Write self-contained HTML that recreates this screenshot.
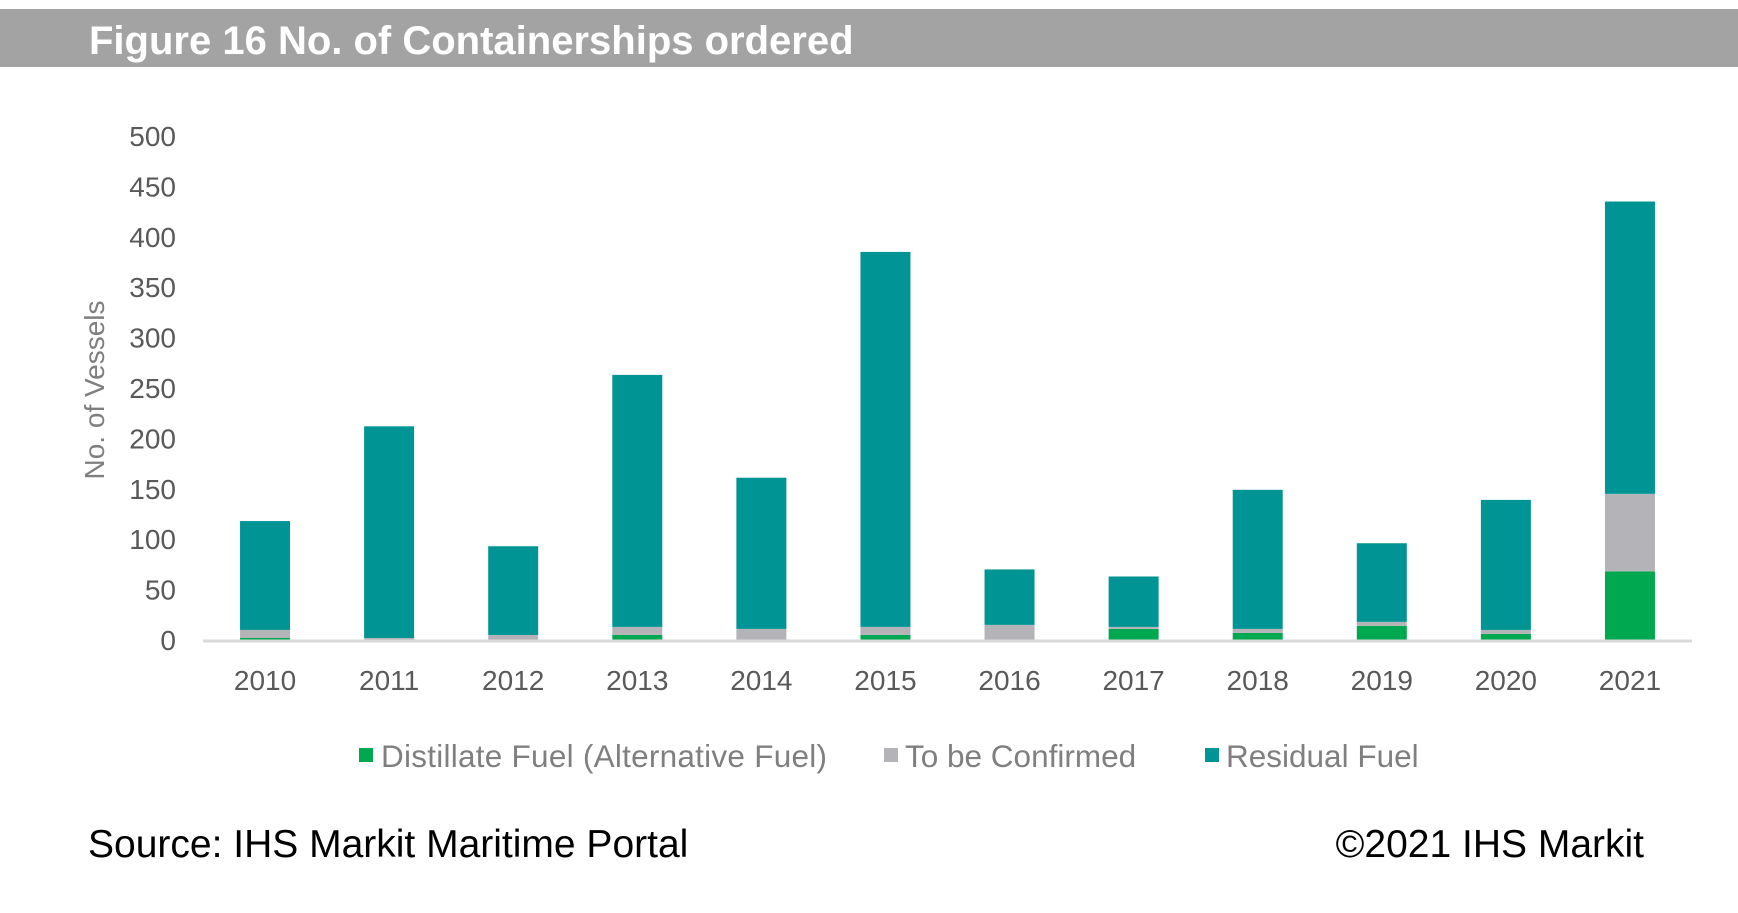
<!DOCTYPE html>
<html><head><meta charset="utf-8"><style>
body{margin:0;width:1738px;height:908px;background:#fff;overflow:hidden;font-family:"Liberation Sans",sans-serif}
</style></head><body>
<svg width="1738" height="908" xmlns="http://www.w3.org/2000/svg">
<rect x="0" y="9" width="1738" height="58" fill="#a3a3a3"/>
<text x="89" y="54" font-size="40" font-weight="bold" fill="#fff" font-family="Liberation Sans">Figure 16 No. of Containerships ordered</text>
<g id="yaxis"></g>
<g id="bars"></g>
<g id="xaxis"></g>
<text transform="translate(104,390) rotate(-90)" text-anchor="middle" font-size="28" fill="#7f7f7f">No. of Vessels</text>
<g font-size="31.5" fill="#7f7f7f">
<rect x="359" y="748" width="14" height="14" fill="#00a84f"/>
<text x="381" y="767" textLength="446">Distillate Fuel (Alternative Fuel)</text>
<rect x="884" y="748" width="14" height="14" fill="#b4b4b8"/>
<text x="905" y="767">To be Confirmed</text>
<rect x="1205" y="748" width="14" height="14" fill="#009494"/>
<text x="1226" y="767">Residual Fuel</text>
</g>
<text x="88" y="857" font-size="39" fill="#000">Source: IHS Markit Maritime Portal</text>
<text x="1644" y="857" font-size="39" fill="#000" text-anchor="end">©2021 IHS Markit</text>
</svg>
<script>
const categories=["2010","2011","2012","2013","2014","2015","2016","2017","2018","2019","2020","2021"];
const distillate=[2,0,0,5,0,5,0,11,7,14,6,68];
const tbc=[8,2,5,8,11,8,15,2,4,4,4,77];
const residual=[108,210,88,250,150,372,55,50,138,78,129,290];
const yTicks=[0,50,100,150,200,250,300,350,400,450,500];
const colors=["#00a84f","#b4b4b8","#009494"];
const NS="http://www.w3.org/2000/svg";
const x0=203,x1=1692,yBase=640,yTop=136,yMax=500;
const band=(x1-x0)/categories.length, bw=50;
const y=v=>yBase-(v/yMax)*(yBase-yTop);
const xc=i=>x0+band*(i+0.5);
function mk(tag,attrs,parent){const e=document.createElementNS(NS,tag);for(const k in attrs)e.setAttribute(k,attrs[k]);parent.appendChild(e);return e;}
const ya=document.getElementById('yaxis'),bars=document.getElementById('bars'),xa=document.getElementById('xaxis');
yTicks.forEach(t=>{const e=mk('text',{x:176,y:y(t)+10,'text-anchor':'end','font-size':'28',fill:'#595959'},ya);e.textContent=t;

});
const series=[distillate,tbc,residual];
categories.forEach((c,i)=>{let acc=0;series.forEach((s,k)=>{const v=s[i];if(v>0){const r=mk('rect',{x:xc(i)-bw/2,y:y(acc+v),width:bw,height:y(acc)-y(acc+v),fill:colors[k]},bars);

}acc+=v;});
const t=mk('text',{x:xc(i),y:690,'text-anchor':'middle','font-size':'28',fill:'#595959'},xa);t.textContent=c;

});
const ln=mk('line',{x1:x0,x2:x1,y1:yBase+1,y2:yBase+1,stroke:'#d9d9d9','stroke-width':3},xa);


</script>
</body></html>
